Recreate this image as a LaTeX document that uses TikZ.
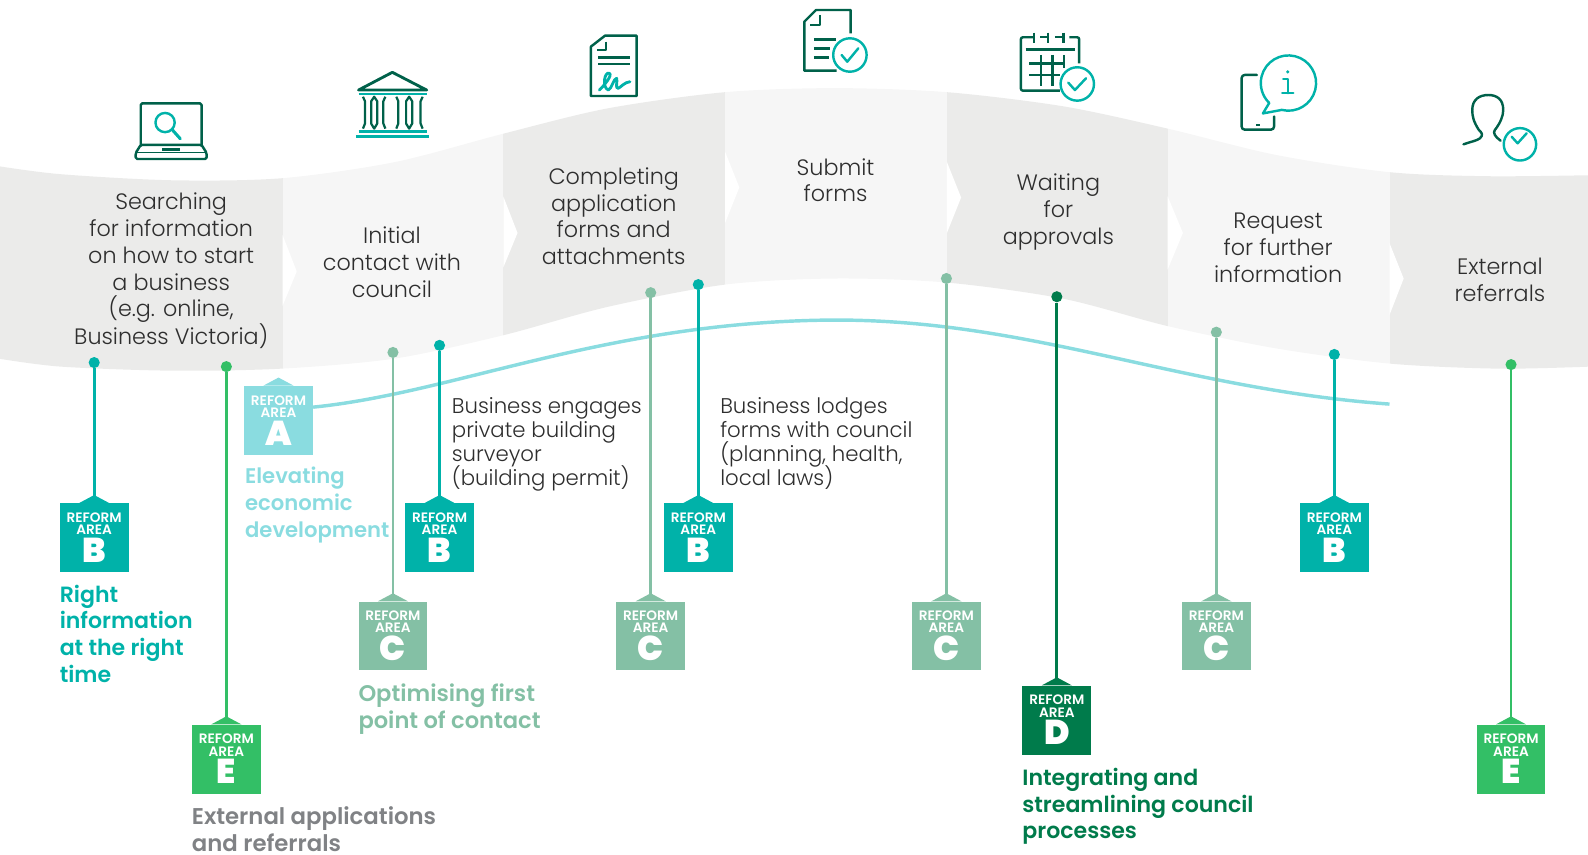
\documentclass[tikz,border=0pt]{standalone}
\usepackage{fontspec}
\setmainfont{Poppins Light}[BoldFont=Poppins SemiBold]
\newfontfamily\letterfont{Poppins Bold}
\usetikzlibrary{
  arrows.meta,
  calc,
  positioning,
}
\definecolor{areaA}{HTML}{8ADCE0}
\definecolor{areaB}{HTML}{00B2A9}
\definecolor{areaC}{HTML}{84C0A5}
\definecolor{areaD}{HTML}{007B4B}
\definecolor{areaE}{HTML}{33BF66}
\definecolor{icondark}{HTML}{00614A}
\definecolor{banddark}{HTML}{EBEBEA}
\definecolor{bandlight}{HTML}{F6F6F6}
\definecolor{bodytext}{HTML}{2E2E2E}
\definecolor{externalgrey}{HTML}{808285}
\newcommand{\tightlines}{\setlength{\lineskiplimit}{-10pt}}
\newcommand{\reformtext}[1]{REFORM\\[0pt]AREA\\[2.5pt]{\letterfont\fontsize{34}{25}\selectfont #1}}
\tikzset{
  reform/.style={fill=#1, text=white, minimum size=68pt, inner sep=0pt, align=center, font=\bfseries\fontsize{13.5}{12}\selectfont\tightlines,
    append after command={\pgfextra{\fill[#1] ([xshift=-15pt]\tikzlastnode.north) -- ([yshift=8pt]\tikzlastnode.north) -- ([xshift=15pt]\tikzlastnode.north) -- cycle;}}},
  pindot/.style={circle, fill=#1, minimum size=11pt, inner sep=0pt},
  pinline/.style={draw=#1, line width=2.7pt},
  steptext/.style={align=center, inner sep=0pt, text=bodytext, font=\fontsize{22}{26.4}\selectfont},
  sidetext/.style={align=left, inner sep=0pt, text=bodytext, font=\fontsize{21}{23.7}\selectfont\tightlines},
  arealabel/.style={align=left, inner sep=0pt, text=#1, font=\bfseries\fontsize{21.8}{26.4}\selectfont},
  icon/.style={draw=icondark, line width=2.4pt, line join=round},
  iconteal/.style={draw=areaB, line width=2.4pt, line join=round, line cap=round},
}

\begin{document}
\begin{tikzpicture}[x=1pt, y=-1pt]
  \useasboundingbox (0,0) rectangle (1568,844.2);

  \begin{scope}
    \clip plot [smooth] coordinates {(-2,164) (60,172) (170,178) (278,176) (390,160) (497,132) (600,107) (716,91) (825,87) (935,91) (1050,105) (1153,127) (1260,153) (1372,170) (1470,174) (1570,173)}
      -- plot [smooth] coordinates {(1570,362) (1480,364) (1372,359) (1260,344) (1153,322) (1050,295) (935,279) (825,275) (716,281) (600,303) (497,331) (390,354) (278,364) (170,366) (60,362) (-2,354)}
      -- cycle;
    \fill [banddark] (0,0) rectangle (279,400);
    \fill [bandlight] (279,0) rectangle (497,400);
    \fill [banddark] (497,0) rectangle (716,400);
    \fill [bandlight] (716,0) rectangle (935,400);
    \fill [banddark] (935,0) rectangle (1153,400);
    \fill [bandlight] (1153,0) rectangle (1372,400);
    \fill [banddark] (1372,0) rectangle (1568,400);
  \end{scope}

  \fill [white] (279,232) -- (293,268) -- (279,302) -- cycle;
  \fill [white] (497,194) -- (511,230) -- (497,264) -- cycle;
  \fill [white] (716,150) -- (730,185) -- (716,220) -- cycle;
  \fill [white] (935,160) -- (949,195) -- (935,230) -- cycle;
  \fill [white] (1153,194) -- (1168,230) -- (1153,266) -- cycle;
  \fill [white] (1372,240) -- (1386,275) -- (1372,311) -- cycle;

  \node [steptext] (searching) at (169,267.5) {Searching\\for information\\on how to start\\a business\\(e.g. online,\\Business Victoria)};
  \node [steptext] (initial) at (387,259) {Initial\\contact with\\council};
  \node [steptext] (completing) at (606,213.5) {Completing\\application\\forms and\\attachments};
  \node [steptext] (submit) at (825,178) {Submit\\forms};
  \node [steptext] (waiting) at (1045,209.5) {Waiting\\for\\approvals};
  \node [steptext] (request) at (1262,244.5) {Request\\for further\\information};
  \node [steptext] (external) at (1481,276.5) {External\\referrals};

  \node [reform=areaA] (boxA) at (275,415) {\reformtext{A}};
  \coordinate (curveend) at (1372,399);
  \draw [areaA, line width=3.4pt] ([yshift=13pt]boxA.east) .. controls (450,388) and (600,317) .. (825,316) .. controls (1020,316) and (1165,384) .. (curveend);

  \node [reform=areaB] (boxB1) at (93,531) {\reformtext{B}};
  \node [pindot=areaB] (dotB1) at (93,358) {};
  \draw [pinline=areaB] (dotB1) -- (boxB1);

  \node [reform=areaE] (boxE1) at (223.5,749.5) {\reformtext{E}};
  \node [pindot=areaE] (dotE1) at (223.5,362) {};
  \draw [pinline=areaE] (dotE1) -- (boxE1);

  \node [reform=areaC] (boxC1) at (388,628) {\reformtext{C}};
  \node [pindot=areaC] (dotC1) at (388,348) {};
  \draw [pinline=areaC] (dotC1) -- (boxC1);

  \node [reform=areaB] (boxB2) at (434,531) {\reformtext{B}};
  \node [pindot=areaB] (dotB2) at (434,341) {};
  \draw [pinline=areaB] (dotB2) -- (boxB2);

  \node [reform=areaC] (boxC2) at (642.5,628) {\reformtext{C}};
  \node [pindot=areaC] (dotC2) at (642.5,289) {};
  \draw [pinline=areaC] (dotC2) -- (boxC2);

  \node [reform=areaB] (boxB3) at (689.5,531) {\reformtext{B}};
  \node [pindot=areaB] (dotB3) at (689.5,281) {};
  \draw [pinline=areaB] (dotB3) -- (boxB3);

  \node [reform=areaC] (boxC3) at (934.5,628) {\reformtext{C}};
  \node [pindot=areaC] (dotC3) at (934.5,275) {};
  \draw [pinline=areaC] (dotC3) -- (boxC3);

  \node [reform=areaD] (boxD) at (1043.5,711) {\reformtext{D}};
  \node [pindot=areaD] (dotD) at (1043.5,293) {};
  \draw [pinline=areaD] (dotD) -- (boxD);

  \node [reform=areaC] (boxC4) at (1201,628) {\reformtext{C}};
  \node [pindot=areaC] (dotC4) at (1201,328) {};
  \draw [pinline=areaC] (dotC4) -- (boxC4);

  \node [reform=areaB] (boxB4) at (1317.5,531) {\reformtext{B}};
  \node [pindot=areaB] (dotB4) at (1317.5,350) {};
  \draw [pinline=areaB] (dotB4) -- (boxB4);

  \node [reform=areaE] (boxE2) at (1492,749.5) {\reformtext{E}};
  \node [pindot=areaE] (dotE2) at (1492,360) {};
  \draw [pinline=areaE] (dotE2) -- (boxE2);

  \node [arealabel=areaA, font=\bfseries\fontsize{20.9}{26.4}\selectfont, below=12pt of boxA.south west, anchor=north west, xshift=1pt] (labelA) {Elevating\\economic\\development};
  \node [arealabel=areaB, below=12pt of boxB1.south west, anchor=north west] (labelB) {Right\\information\\at the right\\time};
  \node [arealabel=areaC, font=\bfseries\fontsize{22.3}{26.4}\selectfont, below=13pt of boxC1.south west, anchor=north west] (labelC) {Optimising first\\point of contact};
  \node [arealabel=areaD, below=13pt of boxD.south west, anchor=north west] (labelD) {Integrating and\\streamlining council\\processes};
  \node [arealabel=externalgrey, font=\bfseries\fontsize{22.5}{26.4}\selectfont, below=13pt of boxE1.south west, anchor=north west] (labelE) {External applications\\and referrals};

  \node [sidetext, anchor=north west] (engages) at (446,392) {Business engages\\private building\\surveyor\\(building permit)};
  \node [sidetext, anchor=north west] (lodges) at (711,392) {Business lodges\\forms with council\\(planning, health,\\local laws)};

  % laptop
  \draw [icon, rounded corners=1.5pt] (139,143) -- (139,102) -- (199,102) -- (199,143);
  \draw [icon, rounded corners=1.5pt] (139,143) -- (199,143) -- (204,151) -- (204,157) -- (134,157) -- (134,151) -- cycle;
  \draw [icon, line width=1pt] (134,151) -- (204,151);
  \fill [icondark] (160,146) rectangle (178,149);
  \draw [iconteal] (163,121) circle (9.5pt);
  \draw [iconteal, line width=3pt] (170,128) -- (178,137);

  % building
  \draw [icon, line width=2.8pt] (354,88.9) -- (387.4,71.4) -- (421.3,88.9) -- cycle;
  \draw [areaB, line width=2.4pt] (354,92.8) -- (421.3,92.8);
  \foreach \cx in {369.5,404} {
    \draw [icon, line width=2.2pt] (\cx,95.5) -- (\cx-3,100) -- (\cx-3,122) -- (\cx,127) -- (\cx+3,122) -- (\cx+3,100) -- cycle;
  }
  \foreach \cx/\fx in {360.4/358.4, 378.5/380.5, 393.3/391.3, 415.3/417.3} {
    \draw [icon, line width=2.2pt] (\fx,95.5) -- (\cx,100) -- (\cx,122) -- (\fx,127);
  }
  \draw [areaB, line width=2.4pt] (354,130) -- (421.3,130);
  \draw [areaB, line width=2.8pt] (351.5,135) -- (424,135);

  % signed form
  \draw [icon] (583.5,46) -- (597.4,35.2) -- (628.6,35.2) -- (628.6,94.8) -- (583.5,94.8) -- cycle;
  \draw [icon] (598.3,41) -- (598.3,49.4) -- (589.8,49.4);
  \draw [icon] (590.8,56.6) -- (622,56.6);
  \draw [icon] (590.8,63.2) -- (622,63.2);
  \draw [iconteal, line width=2.8pt] (591.8,88.9) .. controls (597,84) and (605,74) .. (601.7,72.4) .. controls (597,70) and (594,86) .. (600.6,88.9) .. controls (604,88) and (606,77) .. (608.9,77.3) .. controls (610,80) and (607,88) .. (610.5,87.2) .. controls (613,86) and (617,81) .. (622,80.7);

  % submitted form
  \draw [icon] (839.9,32.9) -- (839.9,9.9) -- (805.7,9.9) -- (794.2,21.4) -- (794.2,69.8) -- (826,69.8);
  \draw [icon] (809.7,14.8) -- (809.7,24.7) -- (799.8,24.7);
  \draw [icon] (803.7,38.8) -- (825,38.8);
  \draw [icon] (803.7,47.7) -- (819.5,47.7);
  \draw [icon] (803.7,56.6) -- (819,56.6);
  \draw [iconteal] (839.2,54.3) circle (16.5pt);
  \draw [iconteal] (831,54.3) -- (836.6,60.9) -- (847.5,47.7);

  % calendar
  \draw [icon, rounded corners=2pt] (1021,36.8) -- (1008,36.8) -- (1008,89.5) -- (1046.6,89.5);
  \draw [icon, rounded corners=2pt] (1055.8,36.8) -- (1065.6,36.8) -- (1065.6,62.5);
  \draw [icon] (1021,32.3) -- (1021,42.8);
  \draw [icon] (1035,32.3) -- (1035,42.8);
  \draw [icon] (1050,32.3) -- (1050,42.8);
  \draw [icon] (1026.9,36.8) -- (1035,36.8);
  \draw [icon] (1041.6,36.8) -- (1050,36.8);
  \draw [icon] (1012.7,48.7) -- (1061.5,48.7);
  \draw [icon] (1016.4,62.5) -- (1051.7,62.5);
  \draw [icon] (1016.4,74) -- (1046.6,74);
  \draw [icon] (1027.8,54.3) -- (1027.8,85);
  \draw [icon] (1039.4,54.3) -- (1039.4,85);
  \draw [icon] (1050.7,54.3) -- (1050.7,67.5);
  \draw [iconteal] (1063.7,82.9) circle (16.5pt);
  \draw [iconteal] (1054.8,81.6) -- (1061.4,88.9) -- (1072.3,77.3);

  % phone with bubble
  \draw [icon, rounded corners=3pt, line cap=round] (1241,74) -- (1226,74) -- (1226,128) -- (1258,128) -- (1258,115);
  \fill [icondark] (1240,122.5) rectangle (1244,124.5);
  \draw [iconteal] (1265.6,108.5) arc [start angle=256, end angle=586, radius=27.3pt] -- (1247,112) -- cycle;
  \fill [areaB] (1271.5,71) circle (1.7pt);
  \draw [iconteal] (1267,78) -- (1271.5,78) -- (1271.5,92);
  \draw [iconteal] (1266,92) -- (1277,92);

  % person with clock
  \draw [icon, line cap=round] (1445,142.5) .. controls (1452,140) and (1458,139) .. (1461.3,136.6) .. controls (1465,133) and (1463,131) .. (1460,128) .. controls (1455,120) and (1453.7,115) .. (1453.7,108.6) .. controls (1453.7,98) and (1461,93.8) .. (1469.5,93.8) .. controls (1478,93.8) and (1484.3,98) .. (1484.3,108.6) .. controls (1484.3,115) and (1481,122) .. (1476,128.4) .. controls (1474,131) and (1476,135) .. (1481.7,138.9);
  \draw [iconteal] (1500.8,142.5) circle (16pt);
  \draw [iconteal] (1492.6,135) -- (1498.5,141.5) -- (1507.4,131.6);
\end{tikzpicture}
\end{document}
